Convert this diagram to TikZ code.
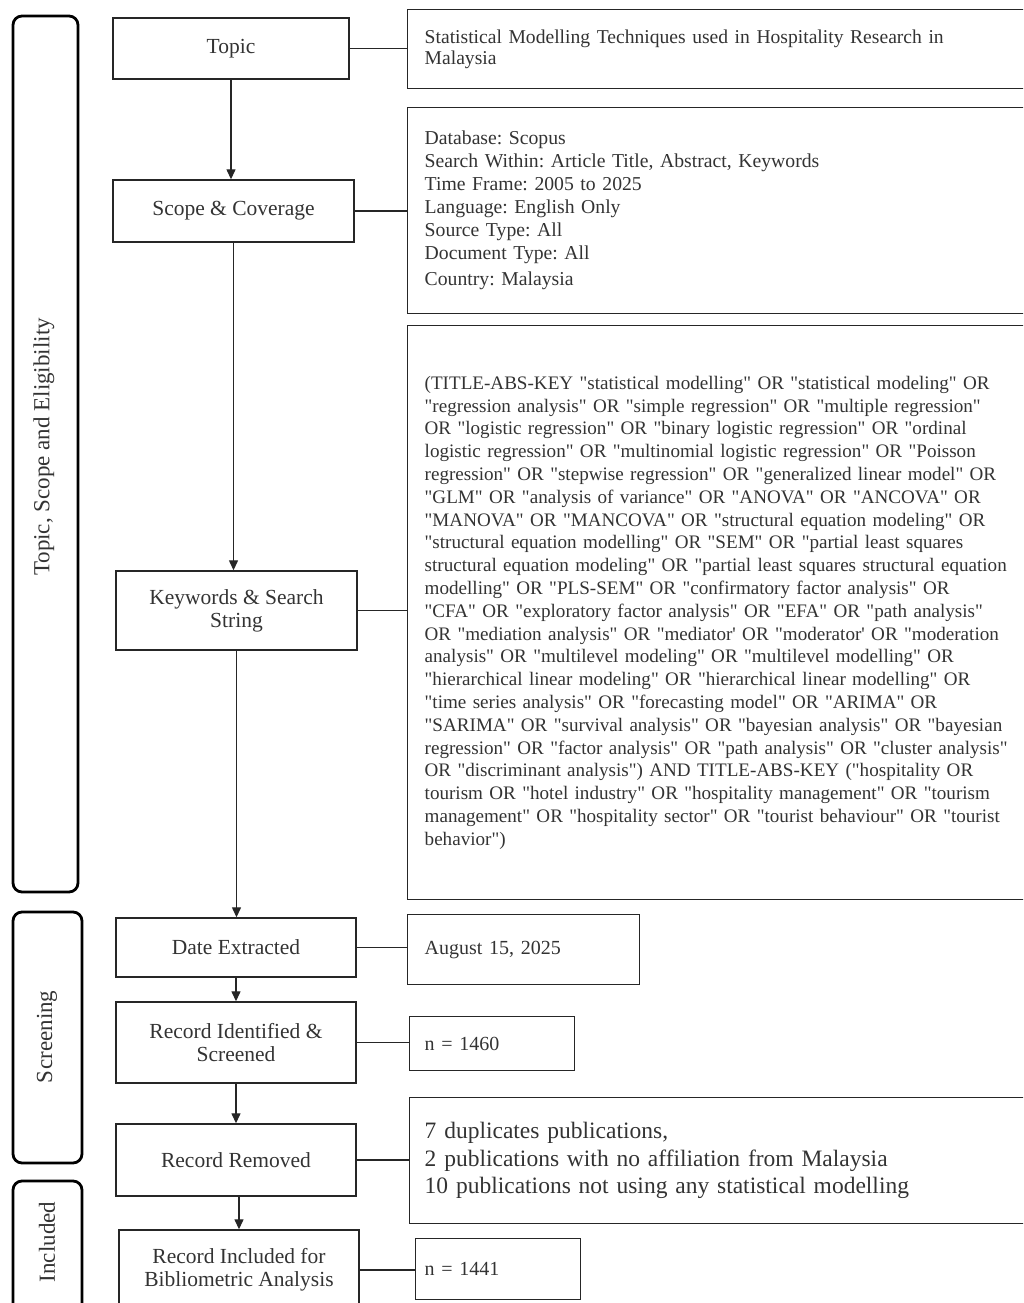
\documentclass[tikz,border=0pt]{standalone}
\usepackage{fontspec}
\setmainfont{Liberation Serif}
\newfontfamily\kwfont{Liberation Serif}
\usetikzlibrary{arrows.meta}
\begin{document}
\frenchspacing
\begin{tikzpicture}[x=1pt,y=-1pt,
  lbl/.style={draw=black!85, line width=1.4pt, align=center, text=black!80,
    inner sep=0pt, font=\fontsize{21.5}{23}\selectfont},
  rbox/.style={draw=black!85, line width=1.4pt, anchor=north west, align=left,
    text=black!80, inner xsep=17pt, inner ysep=0pt},
  phase/.style={draw=black, line width=2.8pt, rounded corners=9pt, inner sep=0pt},
  phtext/.style={rotate=90, text=black!80, font=\fontsize{23}{26}\selectfont},
  flow/.style={draw=black!85, line width=1.3pt, -{Triangle[length=10pt,width=9pt]}},
  link/.style={draw=black!85, line width=1.3pt}]
\useasboundingbox (0,0) rectangle (1023,1303);
\clip (0,0) rectangle (1023,1303);

% phases
\node[phase, minimum width=65pt, minimum height=876pt] (ph1) at (45.5,454) {};
\node[phtext] (ph1t) at (44,447) {Topic, Scope and Eligibility};
\node[phase, minimum width=69pt, minimum height=251pt] (ph2) at (47.5,1037.5) {};
\node[phtext] (ph2t) at (47,1037) {S\kern1pt creening};
\node[phase, minimum width=69pt, minimum height=160pt] (ph3) at (47.5,1261) {};
\node[phtext] (ph3t) at (47,1242) {Included};

% left flow boxes
\node[lbl, minimum width=236pt, minimum height=61pt] (topic) at (231,48.5) {Topic};
\node[lbl, minimum width=241pt, minimum height=62pt] (scope) at (233.5,211) {Scope \& Coverage};
\node[lbl, minimum width=241pt, minimum height=79pt] (kw) at (236.5,610.5) {Keywords \& Search\\String};
\node[lbl, minimum width=240pt, minimum height=59pt] (date) at (236,947.5) {Date Extracted};
\node[lbl, minimum width=240pt, minimum height=81pt] (ident) at (236,1042.5) {Record Identified \&\\Screened};
\node[lbl, minimum width=240pt, minimum height=72pt] (rem) at (236,1160) {Record Removed};
\node[lbl, minimum width=240pt, minimum height=80pt] (incl) at (239,1270) {Record Included for\\Bibliometric Analysis};

% right boxes
\node[rbox, text width=600pt, minimum height=79pt, font=\fontsize{19.6}{21}\selectfont] (topR) at (407,9)
 {Statistical Modelling Techniques used in Hospitality Research in\\Malaysia};
\node[rbox, text width=600pt, minimum height=206pt, font=\fontsize{19.7}{23}\selectfont] (scopeR) at (407,107)
 {Database: Scopus\\Search Within: Article Title, Abstract, Keywords\\Time Frame: 2005 to 2025\\Language: English Only\\Source Type: All\\Document Type: All\\[3pt]Country: Malaysia};
\node[rbox, text width=600pt, minimum height=574pt, font=\kwfont\fontsize{19.1}{22.8}\selectfont] (kwR) at (407,325)
 {(TITLE-ABS-KEY "statistical modelling" OR "statistical modeling" OR\\
"regression analysis" OR "simple regression" OR "multiple regression"\\
OR "logistic regression" OR "binary logistic regression" OR "ordinal\\
logistic regression" OR "multinomial logistic regression" OR "Poisson\\
regression" OR "stepwise regression" OR "generalized linear model" OR\\
"GLM" OR "analysis of variance" OR "ANOVA" OR "ANCOVA" OR\\
"MANOVA" OR "MANCOVA" OR "structural equation modeling" OR\\
"structural equation modelling" OR "SEM" OR "partial least squares\\
structural equation modeling" OR "partial least squares structural equation\\
modelling" OR "PLS-SEM" OR "confirmatory factor analysis" OR\\
"CFA" OR "exploratory factor analysis" OR "EFA" OR "path analysis"\\
OR "mediation analysis" OR "mediator' OR "moderator' OR "moderation\\
analysis" OR "multilevel modeling" OR "multilevel modelling" OR\\
"hierarchical linear modeling" OR "hierarchical linear modelling" OR\\
"time series analysis" OR "forecasting model" OR "ARIMA" OR\\
"SARIMA" OR "survival analysis" OR "bayesian analysis" OR "bayesian\\
regression" OR "factor analysis" OR "path analysis" OR "cluster analysis"\\
OR "discriminant analysis") AND TITLE-ABS-KEY ("hospitality OR\\
tourism OR "hotel industry" OR "hospitality management" OR "tourism\\
management" OR "hospitality sector" OR "tourist behaviour" OR "tourist\\
behavior")};
\node[rbox, text width=198pt, minimum height=70pt, font=\fontsize{20}{22}\selectfont] (dateR) at (407,914) {August 15, 2025};
\node[rbox, inner xsep=15pt, text width=135pt, minimum height=54pt, font=\fontsize{20}{22}\selectfont] (identR) at (409,1016) {n = 1460};
\node[rbox, inner xsep=15pt, text width=600pt, minimum height=126pt, font=\fontsize{23.5}{27.5}\selectfont] (remR) at (409,1097)
 {7 duplicates publications,\\2 publications with no affiliation from Malaysia\\10 publications not using any statistical modelling};
\node[rbox, inner xsep=9pt, text width=147pt, minimum height=61pt, font=\fontsize{20}{22}\selectfont] (inclR) at (415,1238) {n = 1441};

% flow arrows
\draw[flow] (topic.south) -- (topic.south |- scope.north);
\draw[flow] (scope.south) -- (scope.south |- kw.north);
\draw[flow] (kw.south) -- (kw.south |- date.north);
\draw[flow] (date.south) -- (date.south |- ident.north);
\draw[flow] (ident.south) -- (ident.south |- rem.north);
\draw[flow] (rem.south) -- (rem.south -| incl.north) -- (incl.north);

% links
\draw[link] (topic.east) -- (topic.east -| topR.west);
\draw[link] (scope.east) -- (scope.east -| scopeR.west);
\draw[link] (kw.east) -- (kw.east -| kwR.west);
\draw[link] (date.east) -- (date.east -| dateR.west);
\draw[link] (ident.east) -- (ident.east -| identR.west);
\draw[link] (rem.east) -- (rem.east -| remR.west);
\draw[link] (incl.east) -- (incl.east -| inclR.west);
\end{tikzpicture}
\end{document}
